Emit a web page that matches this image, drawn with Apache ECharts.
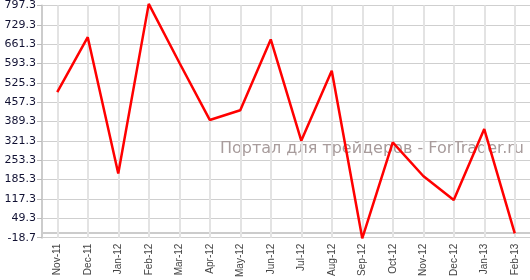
<!DOCTYPE html>
<html>
<head>
<meta charset="utf-8">
<script src="https://cdn.jsdelivr.net/npm/echarts@6/dist/echarts.min.js"></script>
<style>html,body{margin:0;padding:0;background:#fff;}#c{width:530px;height:280px;}</style>
</head>
<body>
<div id="c"></div>
<script>
var categories = ["Nov-11","Dec-11","Jan-12","Feb-12","Mar-12","Apr-12","May-12","Jun-12","Jul-12","Aug-12","Sep-12","Oct-12","Nov-12","Dec-12","Jan-13","Feb-13"];
var values = [493, 686, 207, 803, 597, 395, 429, 678, 322, 568, -21, 316, 198, 114, 363, -4];
var yMin = -18.7, yMax = 797.3, yStep = 68;
var watermark = "Портал для трейдеров - ForTrader.ru";

var chart = echarts.init(document.getElementById('c'), null, {renderer: 'canvas'});
chart.setOption({
  animation: false,
  backgroundColor: '#fff',
  grid: {left: 42, right: -8, top: 4, bottom: 40},
  xAxis: {
    type: 'category',
    data: categories,
    boundaryGap: true,
    axisLine: {lineStyle: {color: '#cccccc', width: 2}},
    axisTick: {alignWithLabel: true, length: 4, lineStyle: {color: '#cccccc'}},
    axisLabel: {rotate: 90, margin: 6, fontFamily: 'Liberation Sans', fontSize: 10, color: '#444'},
    splitLine: {show: false}
  },
  yAxis: {
    type: 'value',
    min: yMin, max: yMax, interval: yStep,
    axisLine: {show: true, lineStyle: {color: '#cccccc', width: 2}},
    axisTick: {show: true, length: 5, lineStyle: {color: '#bbbbbb'}},
    axisLabel: {margin: 6, fontFamily: 'DejaVu Sans', fontSize: 11, color: '#111133',
      formatter: function (v) { return v.toFixed(1); }},
    splitLine: {lineStyle: {color: '#cfcfcf', width: 1}}
  },
  graphic: [{
    type: 'text', right: 6, top: 141, z: 1,
    style: {text: watermark, fontFamily: 'DejaVu Sans', fontSize: 16, fill: '#a89c9c'}
  }],
  series: [{
    type: 'line',
    data: [],
    z: 1,
    silent: true,
    markLine: {
      silent: true,
      symbol: 'none',
      label: {show: false},
      lineStyle: {color: '#e3e3e3', width: 2, type: 'solid'},
      data: categories.map(function (c) { return {xAxis: c}; })
    }
  }, {
    type: 'line',
    data: values,
    clip: false,
    showSymbol: false,
    symbol: 'none',
    z: 5,
    lineStyle: {color: '#ff0000', width: 2.5}
  }]
});
</script>
</body>
</html>
